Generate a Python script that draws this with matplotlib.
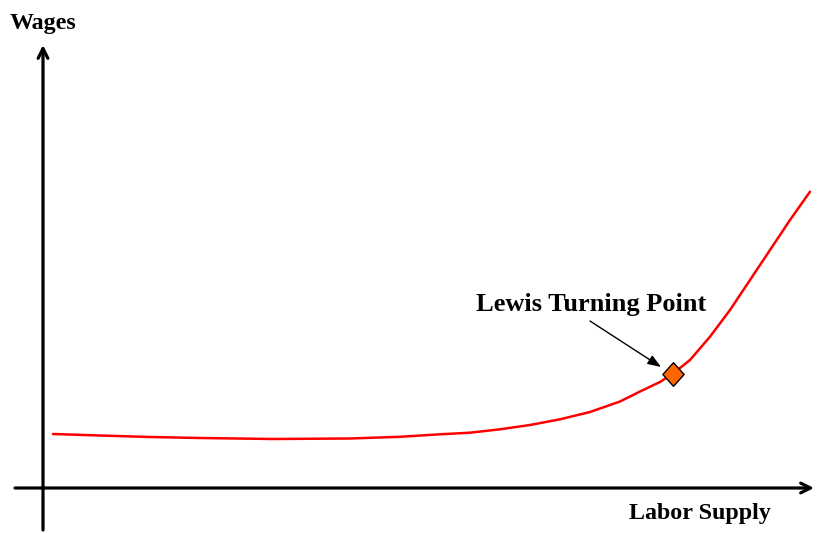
"""
Lewis turning point sketch
"""
import matplotlib
matplotlib.use("Agg")
import matplotlib.pyplot as plt
from matplotlib.path import Path

# wage curve (labor supply, wage), origin at axis crossing
labor = [10, 57, 107, 157, 230, 307, 357, 397, 427, 457, 487, 517, 547,
         577, 597, 617, 630, 647, 667, 687, 707, 727, 747, 767]
wage = [54, 52.5, 51, 50, 49, 49.5, 51.2, 53.7, 55.3, 58.7, 63, 68.7, 76,
        86.5, 96.5, 106, 114.5, 128, 151.3, 178, 208, 238, 268, 296.3]

turning_point = (630, 114.5)

x_label = "Labor Supply"
y_label = "Wages"
point_label = "Lewis Turning Point"

plt.rcParams['font.family'] = ['Liberation Serif', 'DejaVu Serif']

fig = plt.figure(figsize=(8.17, 5.33), dpi=100)
ax = fig.add_axes([0, 0, 1, 1])
ax.set_xlim(-43, 817 - 43)
ax.set_ylim(488 - 533, 488)
ax.axis('off')

# axes with open arrow heads
arrow_style = dict(arrowstyle='->,head_length=0.7,head_width=0.35', color='black', lw=2.3,
                   shrinkA=0, shrinkB=0)
ax.annotate('', xy=(0, 443), xytext=(0, -42), arrowprops=arrow_style)
ax.annotate('', xy=(771, 0), xytext=(-28, 0), arrowprops=arrow_style)

ax.plot(labor, wage, color='red', lw=1.8, solid_capstyle='round', solid_joinstyle='round')

diamond = Path([(0, 1), (0.9, 0), (0, -1), (-0.9, 0), (0, 1)],
               [Path.MOVETO, Path.LINETO, Path.LINETO, Path.LINETO, Path.CLOSEPOLY])
ax.plot(*turning_point, marker=diamond, markersize=17, color='#ff6600',
        markeredgecolor='black', markeredgewidth=1.0, zorder=5)

ax.annotate('', xy=(618, 121), xytext=(547, 167),
            arrowprops=dict(arrowstyle='-|>,head_length=0.8,head_width=0.3', color='black',
                            lw=1.0, shrinkA=0, shrinkB=0))

ax.text(548, 183, point_label, fontsize=19, fontweight='bold', ha='center', va='center')
ax.text(0, 465, y_label, fontsize=17.3, fontweight='bold', ha='center', va='center')
ax.text(657, -26, x_label, fontsize=17.3, fontweight='bold', ha='center', va='center')

plt.savefig('out.png', dpi=100)
